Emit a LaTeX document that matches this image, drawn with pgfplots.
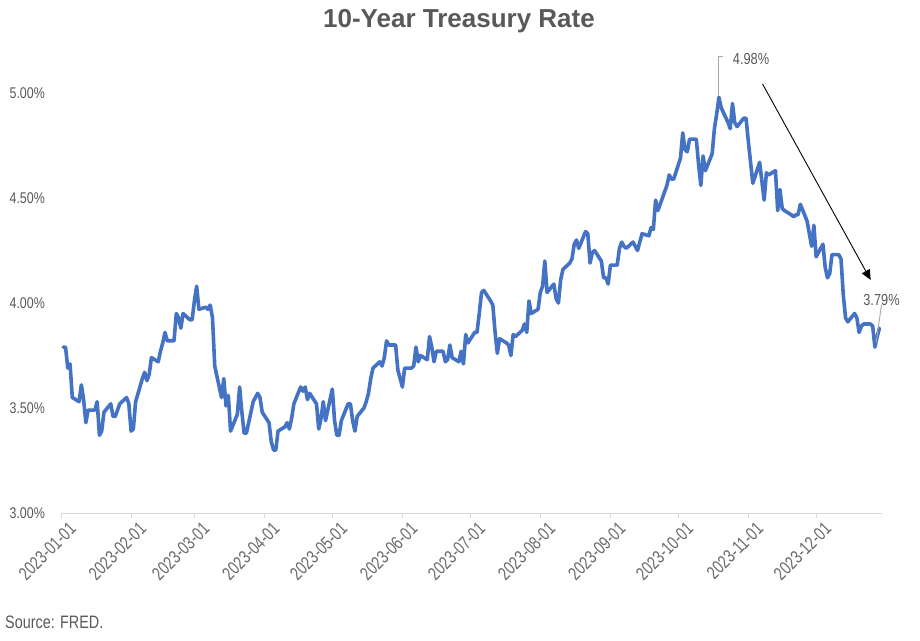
\documentclass[border=0pt]{standalone}
\usepackage{pgfplots}
\pgfplotsset{compat=1.18}
\usepackage{pgfplotstable}
\usetikzlibrary{arrows.meta}
\usepackage{fontspec}
\setmainfont{Liberation Sans}[FakeStretch=0.8]
\newfontfamily\titlefont{Liberation Sans}
\newfontfamily\narrowfont{Liberation Sans}[FakeStretch=0.76]
\definecolor{txt}{HTML}{595959}
\definecolor{ln}{HTML}{4472C4}
\definecolor{axgray}{HTML}{D9D9D9}
\definecolor{leader}{HTML}{A6A6A6}
\newcommand\xt[1]{\mbox{\narrowfont\fontsize{18.5}{20}\selectfont #1}}
\newcommand\yt[1]{\mbox{\fontsize{15.5}{17}\selectfont #1}}

% day of year (Jan 1 = 0), 10-year rate (%)
\pgfplotstableread{
d v
1 3.79
2 3.79
3 3.69
4 3.71
5 3.55
8 3.53
9 3.61
10 3.54
11 3.43
12 3.49
15 3.49
16 3.53
17 3.37
18 3.39
19 3.48
22 3.52
23 3.46
24 3.46
25 3.49
26 3.52
29 3.55
30 3.52
31 3.39
32 3.40
33 3.53
36 3.64
37 3.67
38 3.63
39 3.66
40 3.74
43 3.72
44 3.77
45 3.81
46 3.86
47 3.82
50 3.82
51 3.95
52 3.93
53 3.88
54 3.95
57 3.92
58 3.92
59 4.01
60 4.08
61 3.97
64 3.98
65 3.97
66 3.99
67 3.93
68 3.70
71 3.55
72 3.64
73 3.51
74 3.56
75 3.39
78 3.47
79 3.60
80 3.48
81 3.38
82 3.38
85 3.53
86 3.55
87 3.57
88 3.55
89 3.48
92 3.43
93 3.34
94 3.30
95 3.30
96 3.39
99 3.41
100 3.43
101 3.40
102 3.45
103 3.52
106 3.60
107 3.58
108 3.60
109 3.54
110 3.57
113 3.52
114 3.40
115 3.45
116 3.53
117 3.44
120 3.59
121 3.44
122 3.37
123 3.37
124 3.44
127 3.52
128 3.52
129 3.44
130 3.39
131 3.46
134 3.50
135 3.53
136 3.57
137 3.64
138 3.69
141 3.72
142 3.70
143 3.74
144 3.82
145 3.80
148 3.80
149 3.68
150 3.64
151 3.60
152 3.69
155 3.69
156 3.70
157 3.79
158 3.72
159 3.75
162 3.73
163 3.84
164 3.79
165 3.72
166 3.77
169 3.77
170 3.72
171 3.73
172 3.80
173 3.74
176 3.72
177 3.77
178 3.71
179 3.85
180 3.81
183 3.86
184 3.86
185 3.95
186 4.05
187 4.06
190 4.01
191 3.99
192 3.86
193 3.76
194 3.83
197 3.81
198 3.80
199 3.75
200 3.85
201 3.84
204 3.87
205 3.90
206 3.86
207 4.01
208 3.95
211 3.97
212 4.05
213 4.08
214 4.20
215 4.05
218 4.09
219 4.02
220 4.00
221 4.11
222 4.16
225 4.19
226 4.21
227 4.28
228 4.30
229 4.26
232 4.34
233 4.33
234 4.19
235 4.24
236 4.25
239 4.20
240 4.12
241 4.12
242 4.09
243 4.18
246 4.18
247 4.26
248 4.29
249 4.27
250 4.26
253 4.29
254 4.27
255 4.25
256 4.29
257 4.33
260 4.32
261 4.36
262 4.35
263 4.49
264 4.44
267 4.53
268 4.56
269 4.61
270 4.59
271 4.59
274 4.69
275 4.81
276 4.73
277 4.72
278 4.78
281 4.78
282 4.66
283 4.56
284 4.70
285 4.63
288 4.71
289 4.83
290 4.90
291 4.98
292 4.93
295 4.86
296 4.83
297 4.95
298 4.86
299 4.84
302 4.88
303 4.88
304 4.77
305 4.67
306 4.57
309 4.67
310 4.58
311 4.49
312 4.62
313 4.61
316 4.63
317 4.44
318 4.54
319 4.45
320 4.44
323 4.42
324 4.41
325 4.42
326 4.42
327 4.47
330 4.39
331 4.33
332 4.27
333 4.37
334 4.22
337 4.28
338 4.17
339 4.12
340 4.14
341 4.23
344 4.23
345 4.21
346 4.04
347 3.93
348 3.91
351 3.95
352 3.93
353 3.86
354 3.89
355 3.90
358 3.90
359 3.89
360 3.79
361 3.84
362 3.88
}\rates

\begin{document}
\begin{tikzpicture}[x=1pt,y=1pt]
\path[use as bounding box] (0,0) rectangle (920,640);
\begin{axis}[
  at={(61pt,127pt)}, anchor=south west,
  scale only axis, width=820.7pt, height=420pt,
  xmin=0, xmax=363, ymin=3, ymax=5,
  axis x line=bottom, axis y line=left,
  x axis line style={draw=axgray, line width=1pt, -},
  y axis line style={draw=none, -},
  xtick={0,31,59,90,120,151,181,212,243,273,304,334},
  xticklabels={\xt{2023-01-01},\xt{2023-02-01},\xt{2023-03-01},\xt{2023-04-01},\xt{2023-05-01},\xt{2023-06-01},\xt{2023-07-01},\xt{2023-08-01},\xt{2023-09-01},\xt{2023-10-01},\xt{2023-11-01},\xt{2023-12-01}},
  ytick={3,3.5,4,4.5,5},
  yticklabels={\yt{3.00\%},\yt{3.50\%},\yt{4.00\%},\yt{4.50\%},\yt{5.00\%}},
  ytick style={draw=none},
  xtick style={draw=axgray, line width=1pt},
  tick align=outside, major tick length=5pt,
  xticklabel style={rotate=45, anchor=north east, inner sep=0pt, text=txt!90, xshift=3pt, yshift=-7pt},
  yticklabel style={text=txt, inner sep=0pt, xshift=-11pt},
  clip=false,
]
\addplot[ln, line width=3.6pt, line join=round, line cap=round] table[x=d, y=v] {\rates};

\draw[leader, line width=0.9pt] (axis cs:291,4.99) -- (axis cs:291,5.176) -- (axis cs:292.9,5.176);
\node[anchor=west, inner sep=0pt, font=\fontsize{16}{18}\selectfont, text=txt] at (axis cs:297.1,5.162) {4.98\%};
\draw[black, line width=0.9pt, -{Triangle[length=10pt,width=9pt]}] (axis cs:310.3,5.043) -- (axis cs:358.1,4.11);
\draw[leader, line width=0.9pt] (axis cs:362.9,3.99) -- (axis cs:360.5,3.81);
\node[anchor=west, inner sep=0pt, font=\fontsize{16}{18}\selectfont, text=txt] at (axis cs:354.8,4.014) {3.79\%};
\end{axis}
\node[anchor=base, inner sep=0pt, text=txt, font=\titlefont\bfseries\fontsize{26}{28}\selectfont] at (459,612.5) {10-Year Treasury Rate};
\node[anchor=base west, inner sep=0pt, text=txt, font=\fontsize{18}{20}\selectfont] at (5,12) {Source: FRED.};
\end{tikzpicture}
\end{document}
